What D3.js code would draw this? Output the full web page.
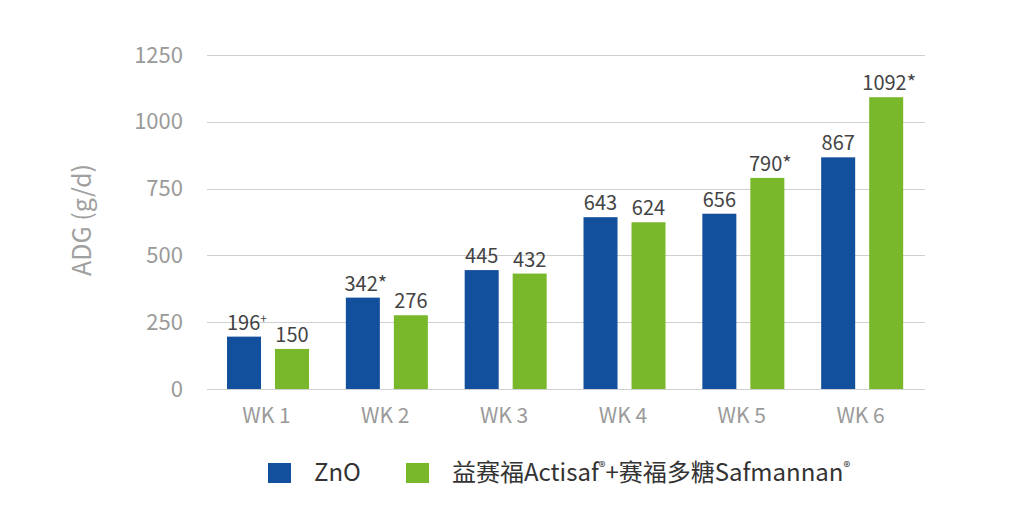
<!DOCTYPE html>
<meta charset="utf-8">
<style>
body { margin: 0; background: #fff; }
svg text { font-family: "Noto Sans CJK SC", "Noto Sans", sans-serif; }
.grid line { stroke: #cfcfcf; stroke-width: 1px; shape-rendering: crispEdges; }
.axis text { fill: #9a9a9a; }
.y.axis text { font-size: 22px; }
.x.axis text { font-size: 21px; }
.value { fill: #444; font-size: 20px; }
</style>
<body>
<div id="chart"></div>
</body>
<script src="https://d3js.org/d3.v7.min.js"></script>
<script>

var weeks = ["WK 1", "WK 2", "WK 3", "WK 4", "WK 5", "WK 6"];
var seriesNames = ["ZnO", "益赛福Actisaf®+赛福多糖Safmannan®"];
var znoValues = [196, 342, 445, 643, 656, 867];
var actisafValues = [150, 276, 432, 624, 790, 1092];
// marks after the numbers: "+" is drawn raised, "*" inline
var znoMarks = ["+", "*", "", "", "", ""];
var actisafMarks = ["", "", "", "", "*", "*"];
var yTicks = [0, 250, 500, 750, 1000, 1250];
var colors = ["#124f9c", "#7ab82b"];

var W = 1024, H = 521;
var margin = {top: 55, right: 99, bottom: 132, left: 207},
    width = W - margin.left - margin.right,
    height = H - margin.top - margin.bottom;

var svg = d3.select("#chart").append("svg")
    .attr("width", W)
    .attr("height", H);

var g = svg.append("g")
    .attr("transform", "translate(" + margin.left + "," + margin.top + ")");

var x = d3.scaleBand().domain(weeks).range([0, 713]);
var groupW = 82;
var x1 = d3.scaleBand().domain([0, 1]).range([0, groupW]).paddingInner(14 / 48);
var y = d3.scaleLinear().domain([0, 1250]).range([height, 0]);

// gridlines
g.append("g").attr("class", "grid")
  .selectAll("line")
  .data(yTicks)
  .enter().append("line")
    .attr("x1", 0)
    .attr("x2", width)
    .attr("y1", function(d) { return Math.round(y(d)) + 0.5; })
    .attr("y2", function(d) { return Math.round(y(d)) + 0.5; });

// y axis labels
var yAxis = d3.axisLeft(y).tickValues(yTicks).tickFormat(d3.format("d")).tickSize(0).tickPadding(24);
g.append("g").attr("class", "y axis")
    .call(yAxis)
    .call(function(s) { s.select(".domain").remove(); });

// x axis labels
var xAxis = d3.axisBottom(x).tickSize(0).tickPadding(19);
g.append("g").attr("class", "x axis")
    .attr("transform", "translate(0," + height + ")")
    .call(xAxis)
    .call(function(s) { s.select(".domain").remove(); });

var rows = weeks.map(function(w, i) {
  return [
    {week: w, s: 0, v: znoValues[i], mark: znoMarks[i]},
    {week: w, s: 1, v: actisafValues[i], mark: actisafMarks[i]}
  ];
});

var groups = g.selectAll(".grp")
  .data(rows)
  .enter().append("g")
    .attr("class", "grp")
    .attr("transform", function(d) {
      return "translate(" + (x(d[0].week) + (x.bandwidth() - groupW) / 2 + 1.6) + ",0)";
    });

groups.selectAll("rect")
  .data(function(d) { return d; })
  .enter().append("rect")
    .attr("x", function(d) { return x1(d.s); })
    .attr("width", x1.bandwidth())
    .attr("y", function(d) { return y(d.v); })
    .attr("height", function(d) { return height - y(d.v); })
    .attr("fill", function(d) { return colors[d.s]; });

var labels = groups.selectAll("text.value")
  .data(function(d) { return d; })
  .enter().append("text")
    .attr("class", "value")
    .attr("text-anchor", "middle")
    .attr("x", function(d) { return x1(d.s) + x1.bandwidth() / 2 + (d.mark ? 3 : 0); })
    .attr("y", function(d) { return y(d.v) - 7; });

labels.append("tspan").text(function(d) { return d.v; });
labels.filter(function(d) { return d.mark == "+"; })
  .append("tspan")
    .attr("dy", -7)
    .style("font-size", "12px")
    .text("+");
labels.filter(function(d) { return d.mark == "*"; })
  .append("tspan")
    .text("*");

// y axis title
svg.append("text")
    .attr("transform", "translate(91," + 220 + ") rotate(-90)")
    .attr("text-anchor", "middle")
    .attr("fill", "#a0a0a0")
    .style("font-size", "25px")
    .text("ADG (g/d)");

// legend
var legend = svg.append("g")
    .attr("transform", "translate(268,463)");

var legX = [0, 138];
var item = legend.selectAll("g")
  .data(seriesNames)
  .enter().append("g")
    .attr("transform", function(d, i) { return "translate(" + legX[i] + ",0)"; });

item.append("rect")
    .attr("width", 23)
    .attr("height", 20)
    .attr("fill", function(d, i) { return colors[i]; });

var legText = item.append("text")
    .attr("x", 46)
    .attr("y", 18)
    .attr("fill", "#333")
    .style("font-size", "24px");

legText.each(function(d) {
  var t = d3.select(this);
  d.split("®").forEach(function(part, i, arr) {
    if (part) t.append("tspan").attr("dy", i > 0 ? 9 : 0).text(part);
    if (i < arr.length - 1) {
      t.append("tspan").attr("dy", -9).style("font-size", "14px").text("®");
    }
  });
});

</script>
